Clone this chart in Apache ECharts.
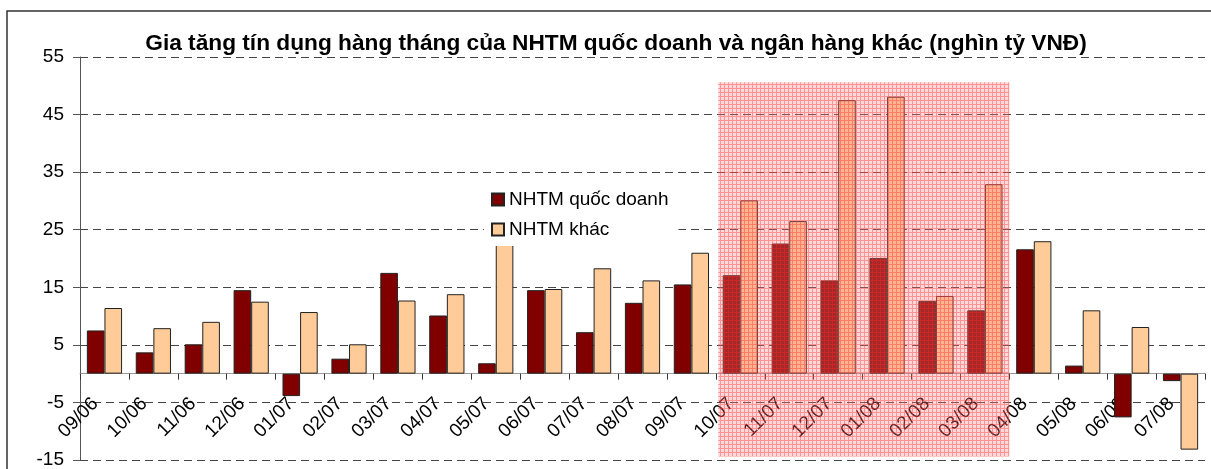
<!DOCTYPE html>
<html>
<head>
<meta charset="utf-8">
<script src="https://cdn.jsdelivr.net/npm/echarts@6/dist/echarts.min.js"></script>
<style>html,body{margin:0;padding:0;background:#fff}#c{width:1211px;height:469px}</style>
</head>
<body>
<div id="c"></div>
<script>
const categories = ['09/06','10/06','11/06','12/06','01/07','02/07','03/07','04/07','05/07','06/07','07/07','08/07','09/07','10/07','11/07','12/07','01/08','02/08','03/08','04/08','05/08','06/08','07/08'];
const quocDoanh = [7.5, 3.7, 5.1, 14.5, -3.9, 2.6, 17.5, 10.1, 1.8, 14.5, 7.2, 12.3, 15.5, 17.1, 22.6, 16.2, 20.1, 12.6, 11.0, 21.6, 1.4, -7.6, -1.3];
const khac = [11.4, 7.9, 9.0, 12.5, 10.7, 5.1, 12.7, 13.8, 27.0, 14.7, 18.3, 16.2, 21.0, 30.1, 26.5, 47.5, 48.1, 13.5, 32.9, 23.0, 11.0, 8.1, -13.2];
const seriesNames = ['NHTM quốc doanh', 'NHTM khác'];
const titleText = 'Gia tăng tín dụng hàng tháng của NHTM quốc doanh và ngân hàng khác (nghìn tỷ VNĐ)';
// highlighted period: from start of category index 13 to end of index 18
const highlightStart = 13.05, highlightEnd = 19;
const highlightTop = 50.6, highlightBottom = -14.4;

const pc = document.createElement('canvas');
pc.width = 4; pc.height = 4;
const g = pc.getContext('2d');
g.fillStyle = 'rgba(255,130,130,0.30)';
g.fillRect(0,0,4,4);
g.fillStyle = 'rgba(255,40,40,0.40)';
g.fillRect(0,0,4,1);
g.fillRect(0,1,1,3);

const chart = echarts.init(document.getElementById('c'), null, {renderer:'canvas'});
const font = 'Arial, "Liberation Sans", sans-serif';
chart.setOption({
  animation: false,
  backgroundColor: '#fff',
  textStyle: {fontFamily: font},
  title: {
    text: titleText, left: 611, top: 27, textAlign: 'center',
    textStyle: {fontFamily: font, fontSize: 22.7, fontWeight: 'bold', color: '#000'}
  },
  graphic: [{
    type: 'rect', shape: {x: 7, y: 11, width: 1300, height: 600},
    style: {fill: 'none', stroke: '#333', lineWidth: 1.5}, silent: true, z: -1
  }],
  legend: {
    data: seriesNames, orient: 'vertical', left: 484, top: 183,
    backgroundColor: '#fff', padding: [6, 10, 6, 7],
    itemWidth: 12, itemHeight: 12, itemGap: 9,
    icon: 'rect',
    textStyle: {fontFamily: font, fontSize: 19, color: '#000', lineHeight: 21}
  },
  grid: {left: 80, right: 6, top: 57, bottom: 9, containLabel: false, outerBoundsMode: 'none'},
  xAxis: [{
    type: 'category', data: categories, position: 'bottom', offset: 0,
    axisLine: {onZero: false, lineStyle: {color: '#999', width: 1}},
    axisTick: {show: true, interval: 0, length: 6, lineStyle: {color: '#333'}},
    axisLabel: {interval: 0, rotate: 45, margin: 18, padding: [0, 13, 0, 0],
      fontFamily: font, fontSize: 19, color: '#000'},
    splitLine: {show: false}
  }, {
    type: 'value', min: 0, max: categories.length, show: false
  }],
  yAxis: {
    type: 'value', min: -15, max: 55, interval: 10,
    axisLine: {show: true, lineStyle: {color: '#555'}},
    axisTick: {show: true, length: 7, lineStyle: {color: '#555'}},
    axisLabel: {fontFamily: font, fontSize: 19, color: '#000', margin: 16},
    splitLine: {show: true, lineStyle: {color: '#444', type: [8, 5], width: 1}}
  },
  series: [{
    name: seriesNames[0], type: 'bar', data: quocDoanh,
    barGap: '0%', barCategoryGap: '28%',
    itemStyle: {color: '#800000', borderColor: '#222', borderWidth: 1}
  }, {
    name: seriesNames[1], type: 'bar', data: khac,
    barGap: '0%', barCategoryGap: '28%',
    itemStyle: {color: '#FFCC99', borderColor: '#222', borderWidth: 1}
  }, {
    type: 'line', xAxisIndex: 1, data: [], z: 5, silent: true,
    markArea: {
      silent: true, z: 10,
      itemStyle: {color: {image: pc, repeat: 'repeat'}, borderWidth: 0},
      data: [[{xAxis: highlightStart, yAxis: highlightTop}, {xAxis: highlightEnd, yAxis: highlightBottom}]]
    }
  }]
});
// move the category axis (line, ticks, labels) up to the zero value of the y scale
const yZero = chart.convertToPixel({yAxisIndex: 0}, 0);
const yMin = chart.convertToPixel({yAxisIndex: 0}, -15);
chart.setOption({xAxis: [{offset: -(yMin - yZero)}, {}]});
</script>
</body>
</html>
